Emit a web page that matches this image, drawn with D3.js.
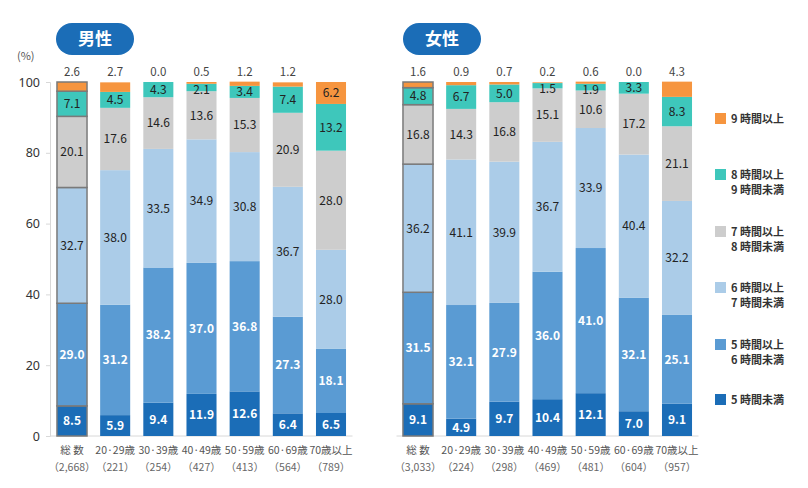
<!DOCTYPE html>
<html>
<head>
<meta charset="utf-8">
<script src="https://cdn.jsdelivr.net/npm/d3@7"></script>
<style>
  body { margin: 0; background: #fff; }
  svg { font-family: "Noto Sans CJK JP", "Noto Sans", sans-serif; }
</style>
</head>
<body>
<svg id="chart" width="808" height="488"></svg>
<script>
// categories and sample sizes
let maleCats = ["総 数", "20·29歳", "30·39歳", "40·49歳", "50·59歳", "60·69歳", "70歳以上"];
let maleN = ["（2,668）", "（221）", "（254）", "（427）", "（413）", "（564）", "（789）"];
let femaleCats = ["総 数", "20·29歳", "30·39歳", "40·49歳", "50·59歳", "60·69歳", "70歳以上"];
let femaleN = ["（3,033）", "（224）", "（298）", "（469）", "（481）", "（604）", "（957）"];

// series, bottom to top
let seriesNames = ["5時間未満", "5時間以上6時間未満", "6時間以上7時間未満", "7時間以上8時間未満", "8時間以上9時間未満", "9時間以上"];
let legendLines = [["5 時間未満"], ["5 時間以上", "6 時間未満"], ["6 時間以上", "7 時間未満"], ["7 時間以上", "8 時間未満"], ["8 時間以上", "9 時間未満"], ["9 時間以上"]];

let maleLt5 = [8.5, 5.9, 9.4, 11.9, 12.6, 6.4, 6.5];
let male5to6 = [29.0, 31.2, 38.2, 37.0, 36.8, 27.3, 18.1];
let male6to7 = [32.7, 38.0, 33.5, 34.9, 30.8, 36.7, 28.0];
let male7to8 = [20.1, 17.6, 14.6, 13.6, 15.3, 20.9, 28.0];
let male8to9 = [7.1, 4.5, 4.3, 2.1, 3.4, 7.4, 13.2];
let male9plus = [2.6, 2.7, 0.0, 0.5, 1.2, 1.2, 6.2];

let femaleLt5 = [9.1, 4.9, 9.7, 10.4, 12.1, 7.0, 9.1];
let female5to6 = [31.5, 32.1, 27.9, 36.0, 41.0, 32.1, 25.1];
let female6to7 = [36.2, 41.1, 39.9, 36.7, 33.9, 40.4, 32.2];
let female7to8 = [16.8, 14.3, 16.8, 15.1, 10.6, 17.2, 21.1];
let female8to9 = [4.8, 6.7, 5.0, 1.5, 1.9, 3.3, 8.3];
let female9plus = [1.6, 0.9, 0.7, 0.2, 0.6, 0.0, 4.3];

let yTicks = [0, 20, 40, 60, 80, 100];

let colors = ["#1b6db7", "#5a9bd3", "#abcce8", "#cdcdcd", "#3ec7bb", "#f6953f"];
let labelColors = ["#fff", "#fff", "#222", "#222", "#222", "#222"];

let svg = d3.select("#chart");

let y = d3.scaleLinear().domain([0, 100]).range([436, 82]);

// y axis (only on the left panel)
let yAxis = svg.append("g")
  .attr("transform", "translate(50,0)")
  .call(d3.axisLeft(y).tickValues(yTicks).tickSize(4).tickPadding(6));
yAxis.select(".domain").attr("stroke", "#d8d8d8");
yAxis.selectAll(".tick line").attr("stroke", "#d8d8d8");
yAxis.selectAll(".tick text")
  .attr("fill", "#333")
  .style("font-size", "12.5px")
  .style("font-family", "'Noto Sans', sans-serif");

svg.append("text")
  .attr("x", 17).attr("y", 60)
  .attr("fill", "#555")
  .style("font-size", "11px")
  .text("(%)");

function toRows(cats, arrays) {
  return cats.map((c, i) => {
    let row = { cat: c };
    arrays.forEach((a, k) => row[seriesNames[k]] = a[i]);
    return row;
  });
}

function drawPanel(cats, counts, arrays, r0, r1, title, badgeX) {
  let x = d3.scaleBand().domain(cats).range([r0, r1]).paddingInner(0.304).paddingOuter(0.15);
  let rows = toRows(cats, arrays);
  let stacked = d3.stack().keys(seriesNames)(rows);

  let g = svg.append("g");

  // x baseline
  g.append("line")
    .attr("x1", r0).attr("x2", r1)
    .attr("y1", y(0)).attr("y2", y(0))
    .attr("stroke", "#d8d8d8");

  stacked.forEach((layer, k) => {
    g.selectAll(null)
      .data(layer)
      .enter()
      .append("rect")
      .attr("x", d => x(d.data.cat))
      .attr("width", x.bandwidth())
      .attr("y", d => y(d[1]))
      .attr("height", d => Math.max(0, y(d[0]) - y(d[1])))
      .attr("fill", colors[k])
      .attr("stroke", (d, i) => i === 0 ? "#7a7a7a" : "none")
      .attr("stroke-width", 1.5);

    // values inside bars (small segments pushed down a little, like the original)
    g.selectAll(null)
      .data(layer.filter(d => k < 5 || (d[1] - d[0]) >= 5))
      .enter()
      .append("text")
      .attr("x", d => x(d.data.cat) + x.bandwidth() / 2)
      .attr("y", d => Math.max((y(d[0]) + y(d[1])) / 2, y(d[1]) + 6))
      .attr("dy", "0.36em")
      .attr("text-anchor", "middle")
      .attr("fill", labelColors[k])
      .style("font-size", "12px")
      .style("font-weight", k < 2 ? "bold" : "normal")
      .text(d => d3.format(".1f")(d[1] - d[0]));

    // 9h+ values above the bar
    if (k === 5) {
      g.selectAll(null)
        .data(layer.filter(d => (d[1] - d[0]) < 5))
        .enter()
        .append("text")
        .attr("x", d => x(d.data.cat) + x.bandwidth() / 2)
        .attr("y", 76)
        .attr("text-anchor", "middle")
        .attr("fill", "#444")
        .style("font-size", "11.5px")
        .text(d => d3.format(".1f")(d[1] - d[0]));
    }
  });

  // category labels
  cats.forEach((c, i) => {
    let cx = x(c) + x.bandwidth() / 2;
    g.append("text")
      .attr("x", cx).attr("y", 454)
      .attr("text-anchor", "middle")
      .attr("fill", "#555")
      .style("font-size", "10.5px")
      .text(c);
    g.append("text")
      .attr("x", cx).attr("y", 471)
      .attr("text-anchor", "middle")
      .attr("fill", "#666")
      .style("font-size", "10.5px")
      .text(counts[i]);
  });

  // title badge
  g.append("rect")
    .attr("x", badgeX).attr("y", 23)
    .attr("width", 78).attr("height", 32)
    .attr("rx", 16)
    .attr("fill", "#1b6db7");
  g.append("text")
    .attr("x", badgeX + 39).attr("y", 39)
    .attr("dy", "0.36em")
    .attr("text-anchor", "middle")
    .attr("fill", "#fff")
    .style("font-size", "17px")
    .style("font-weight", "bold")
    .text(title);
}

drawPanel(maleCats, maleN, [maleLt5, male5to6, male6to7, male7to8, male8to9, male9plus], 50.5, 352.5, "男性", 56);
drawPanel(femaleCats, femaleN, [femaleLt5, female5to6, female6to7, female7to8, female8to9, female9plus], 396.5, 698.5, "女性", 403);

// legend, top item first
let legendY = [400, 345, 288, 232, 175, 119];
let legend = svg.append("g");
legendLines.forEach((lines, k) => {
  legend.append("rect")
    .attr("x", 715).attr("y", legendY[k] - 6)
    .attr("width", 11).attr("height", 11)
    .attr("fill", colors[k]);
  lines.forEach((t, j) => {
    legend.append("text")
      .attr("x", 731).attr("y", legendY[k] + j * 15)
      .attr("dy", "0.36em")
      .attr("fill", "#333")
      .style("font-size", "11px")
      .style("font-weight", "bold")
      .text(t);
  });
});
</script>
</body>
</html>
